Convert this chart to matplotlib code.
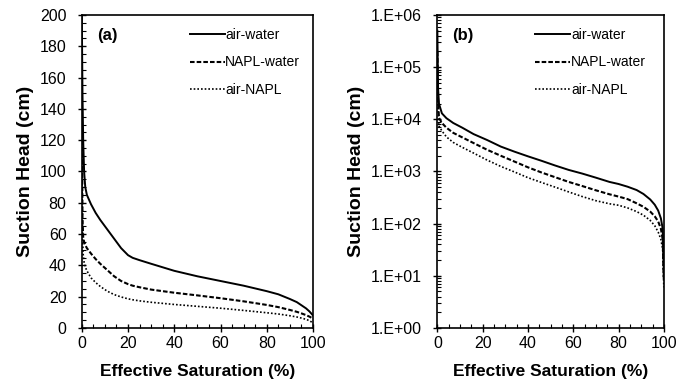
import numpy as np
import matplotlib
matplotlib.use("Agg")
import matplotlib.pyplot as plt
from matplotlib.ticker import MultipleLocator, FixedLocator, FuncFormatter, LogLocator, NullFormatter

plt.rcParams['font.family'] = ['Liberation Sans', 'DejaVu Sans']

# panel (a): linear suction head (cm) vs effective saturation (%)
sat_a = [0, 0.3, 0.6, 1, 1.5, 2.2, 4, 6, 8, 11, 14, 17, 20, 22, 25, 30, 40, 50, 60, 70, 80, 85, 90, 93, 95, 97, 98.5, 100]
aw_a = [200, 150, 120, 100, 90, 85, 79, 73.5, 69, 63, 57, 51, 46.5, 44.8, 43.3, 41, 36.5, 33, 30, 27, 23.5, 21.5, 18.5, 16.5, 14.5, 12.5, 10.5, 8]
nw_a = [150, 70, 58, 55, 53, 51, 47.5, 44, 41, 37, 33, 30, 28, 27, 26, 24.5, 22.5, 20.8, 19, 17, 14.7, 13.3, 11.5, 10.3, 9.3, 8.2, 7.2, 6]
an_a = [120, 60, 47, 42, 39, 36.5, 32, 29, 26.5, 23.5, 21.3, 19.8, 18.6, 18, 17.3, 16.4, 15, 13.8, 12.6, 11.2, 9.7, 8.9, 7.8, 7, 6.3, 5.5, 4.6, 3.2]

# panel (b): log suction head (cm)
sat_b = [0, 0.3, 0.7, 2, 4, 7, 11, 16, 22, 28, 34, 40, 46, 52, 58, 64, 70, 76, 80, 84, 88, 91, 94, 96, 97.5, 98.7, 99.5, 100]
aw_b = [5e5, 4e4, 2e4, 1.3e4, 1.05e4, 8.5e3, 6.9e3, 5.2e3, 4.0e3, 3.0e3, 2.4e3, 1.95e3, 1.6e3, 1.3e3, 1.07e3,
        910, 760, 630, 575, 510, 440, 370, 290, 230, 178, 126, 80, 10]
nw_b = [2e5, 2.5e4, 1.07e4, 8.5e3, 6.9e3, 5.5e3, 4.5e3, 3.5e3, 2.6e3, 2.0e3, 1.55e3, 1.2e3, 955, 775, 630,
        525, 435, 365, 330, 295, 245, 210, 170, 138, 110, 80, 50, 8]
an_b = [1e5, 1.6e4, 7.4e3, 6.0e3, 4.6e3, 3.6e3, 2.9e3, 2.25e3, 1.65e3, 1.25e3, 980, 760, 615, 500, 405,
        330, 275, 240, 225, 200, 170, 145, 115, 91, 69, 50, 32, 6]

labels = ['air-water', 'NAPL-water', 'air-NAPL']
styles = [dict(ls='-', lw=1.4),
          dict(ls=(0, (2.2, 1.0)), lw=1.5),
          dict(ls=(0, (1, 1.2)), lw=1.2)]

fig = plt.figure(figsize=(6.76, 3.84), dpi=100)
ax1 = fig.add_axes([0.121, 0.146, 0.342, 0.815])
ax2 = fig.add_axes([0.647, 0.146, 0.335, 0.815])


def style_axes(ax):
    for sp in ax.spines.values():
        sp.set_linewidth(1.2)
    ax.tick_params(which='major', direction='inout', length=6, width=1, labelsize=11.5)
    ax.tick_params(axis='y', which='major', pad=8)
    ax.tick_params(axis='x', which='major', pad=3)
    ax.tick_params(which='minor', direction='in', length=3, width=0.8)
    ax.xaxis.set_major_locator(MultipleLocator(20))
    ax.xaxis.set_minor_locator(MultipleLocator(5))
    ax.set_xlim(0, 100)
    ax.set_xlabel('Effective Saturation (%)', fontsize=12.5, fontweight='bold', labelpad=9)
    ax.set_ylabel('Suction Head (cm)', fontsize=14, fontweight='bold', labelpad=4)


for y, lab, st in zip([aw_a, nw_a, an_a], labels, styles):
    ax1.plot(sat_a, y, color='black', label=lab, **st)
ax1.set_ylim(0, 200)
ax1.yaxis.set_major_locator(MultipleLocator(20))
ax1.yaxis.set_minor_locator(MultipleLocator(5))
style_axes(ax1)
ax1.text(0.065, 0.935, '(a)', transform=ax1.transAxes, fontsize=12, fontweight='bold', va='center')
ax1.legend(loc='upper left', bbox_to_anchor=(0.41, 1.0), frameon=False, fontsize=10,
           handlelength=2.5, handletextpad=0.05, labelspacing=0.95, borderpad=0.45)

for y, lab, st in zip([aw_b, nw_b, an_b], labels, styles):
    ax2.plot(sat_b, y, color='black', label=lab, **st)
ax2.set_yscale('log')
ax2.set_ylim(1, 1e6)
ax2.yaxis.set_major_locator(FixedLocator([1, 10, 100, 1e3, 1e4, 1e5, 1e6]))
ax2.yaxis.set_minor_locator(LogLocator(base=10, subs=np.arange(2, 10)))
ax2.yaxis.set_minor_formatter(NullFormatter())
ax2.yaxis.set_major_formatter(FuncFormatter(lambda v, p: '1.E+%02d' % int(round(np.log10(v)))))
style_axes(ax2)
ax2.text(0.065, 0.935, '(b)', transform=ax2.transAxes, fontsize=12, fontweight='bold', va='center')
ax2.legend(loc='upper left', bbox_to_anchor=(0.375, 1.0), frameon=False, fontsize=10,
           handlelength=2.5, handletextpad=0.05, labelspacing=0.95, borderpad=0.45)

fig.savefig('out.png', dpi=100)
